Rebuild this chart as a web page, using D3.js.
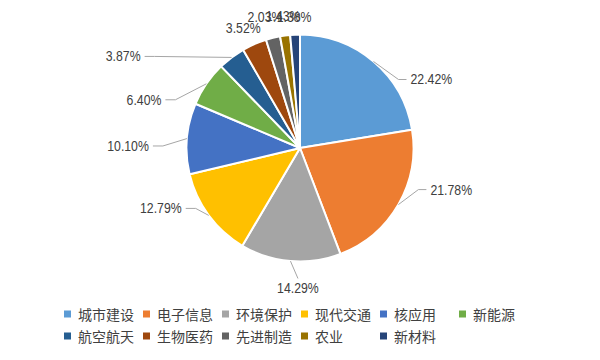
<!DOCTYPE html>
<html><head><meta charset="utf-8">
<script src="https://cdn.jsdelivr.net/npm/d3@7"></script>
<style>body{margin:0;background:#fff}</style>
</head><body><svg id="c" width="600" height="360"></svg>
<script>
const categories = ["城市建设","电子信息","环境保护","现代交通","核应用","新能源","航空航天","生物医药","先进制造","农业","新材料"];
const values = [22.42,21.78,14.29,12.79,10.10,6.40,3.87,3.52,2.03,1.43,1.38];
const colors = ["#5B9BD5","#ED7D31","#A5A5A5","#FFC000","#4472C4","#70AD47","#255E91","#9E480E","#636363","#997300","#264478"];

// label layout: offset from slice edge point, anchor, leader flag
const labelLayout = [
  [37,18,"start",1],[32,-15,"start",1],[7.5,27.4,"middle",1],[-27,-7,"end",1],
  [-38,7.4,"end",1],[-45,16,"end",1],[-91,-1,"end",1],[-11,-16.5,"middle",0],
  [-8,-20.5,"middle",0],[-2,-19,"middle",0],[-1,-18,"middle",0]
];

const svg = d3.select("#c");
const cx = 300, cy = 148, r = 113.5;
const pie = d3.pie().sort(null).value(d => d);
const arcs = pie(values);
const arc = d3.arc().innerRadius(0).outerRadius(r);
const g = svg.append("g").attr("transform", `translate(${cx},${cy})`);
g.selectAll("path").data(arcs).join("path")
  .attr("d", arc).attr("fill", (d,i) => colors[i])
  .attr("stroke", "#fff").attr("stroke-width", 2).attr("stroke-linejoin","round");

const labelFont = "'Liberation Sans',Arial,sans-serif";
arcs.forEach((d,i) => {
  const a = (d.startAngle + d.endAngle) / 2;
  const ex = cx + r * Math.sin(a), ey = cy - r * Math.cos(a);
  const [dx, dy, anchor, leader] = labelLayout[i];
  const lx = ex + dx, ly = ey + dy;
  if (leader) {
    let pts;
    if (anchor === "start") pts = [[ex,ey],[lx-12,ly],[lx-4,ly]];
    else if (anchor === "end") pts = [[ex,ey],[lx+14,ly],[lx+4,ly]];
    else pts = [[ex,ey],[lx,ly-10]];
    svg.append("polyline").attr("points", pts.map(p=>p.join(",")).join(" "))
      .attr("fill","none").attr("stroke","#a6a6a6").attr("stroke-width",1);
  }
  svg.append("text").attr("transform", `translate(${lx},${ly}) scale(0.82,1)`)
    .attr("text-anchor", anchor).attr("dominant-baseline","central")
    .attr("font-family", labelFont).attr("font-size", 15).attr("fill","#404040")
    .text(values[i].toFixed(2) + "%");
});

const leg = svg.append("g");
categories.forEach((c,i) => {
  const col = i < 6 ? i : i - 6, row = i < 6 ? 0 : 1;
  const x = 64 + col * 79, y = 314 + row * 22;
  leg.append("rect").attr("x", x).attr("y", y - 3.5).attr("width", 7).attr("height", 7).attr("fill", colors[i]);
  leg.append("text").attr("x", x + 14).attr("y", y).attr("dominant-baseline","central")
    .attr("font-family","'Noto Sans CJK SC',sans-serif").attr("font-size",14).attr("fill","#404040").text(c);
});
</script></body></html>
